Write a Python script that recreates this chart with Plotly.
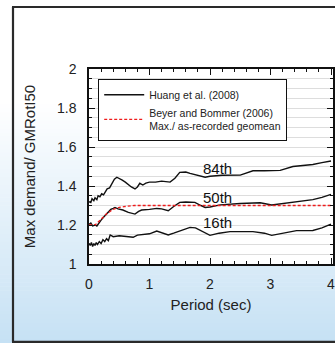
import plotly.graph_objects as go

# ---------------- data ----------------
p84_x = [0, 0.03, 0.05, 0.08, 0.1, 0.13, 0.15, 0.18, 0.21, 0.24, 0.27, 0.3, 0.34, 0.38, 0.42, 0.46,
         0.5, 0.55, 0.6, 0.65, 0.7, 0.76, 0.8, 0.84, 0.89, 0.94, 1.0, 1.1, 1.2, 1.34, 1.42, 1.5,
         1.6, 1.67, 1.8, 1.92, 2.0, 2.2, 2.5, 2.71, 2.9, 3.16, 3.37, 3.55, 3.7, 3.85, 4.0]
p84_y = [1.32, 1.315, 1.335, 1.325, 1.34, 1.33, 1.35, 1.345, 1.36, 1.355, 1.37, 1.385, 1.39, 1.41,
         1.435, 1.445, 1.44, 1.43, 1.42, 1.405, 1.395, 1.385, 1.395, 1.414, 1.405, 1.415, 1.42,
         1.42, 1.425, 1.42, 1.44, 1.47, 1.472, 1.465, 1.455, 1.445, 1.45, 1.455, 1.456, 1.478,
         1.478, 1.48, 1.5, 1.505, 1.51, 1.52, 1.528]

p50_x = [0, 0.03, 0.06, 0.1, 0.13, 0.16, 0.2, 0.24, 0.28, 0.32, 0.36, 0.4, 0.43, 0.48, 0.56,
         0.65, 0.76, 0.82, 0.87, 1.0, 1.12, 1.2, 1.31, 1.4, 1.5, 1.6, 1.75, 1.85, 1.92, 2.0,
         2.17, 2.5, 2.83, 3.02, 3.2, 3.43, 3.7, 3.85, 4.0]
p50_y = [1.203, 1.21, 1.195, 1.2, 1.195, 1.21, 1.225, 1.24, 1.255, 1.265, 1.28, 1.285, 1.29,
         1.283, 1.277, 1.265, 1.256, 1.27, 1.277, 1.28, 1.285, 1.283, 1.273, 1.295, 1.316,
         1.318, 1.316, 1.3, 1.29, 1.292, 1.303, 1.31, 1.314, 1.303, 1.31, 1.32, 1.33, 1.342, 1.357]

p16_x = [0, 0.02, 0.04, 0.06, 0.08, 0.1, 0.12, 0.14, 0.17, 0.2, 0.23, 0.26, 0.29, 0.32, 0.35,
         0.4, 0.5, 0.6, 0.73, 0.8, 0.93, 1.0, 1.12, 1.2, 1.31, 1.4, 1.5, 1.67, 1.76, 1.84, 1.92,
         2.0, 2.15, 2.33, 2.71, 2.9, 3.02, 3.2, 3.43, 3.7, 3.85, 4.0]
p16_y = [1.106, 1.095, 1.11, 1.09, 1.105, 1.095, 1.11, 1.1, 1.115, 1.105, 1.125, 1.115, 1.13,
         1.12, 1.149, 1.14, 1.145, 1.14, 1.137, 1.148, 1.154, 1.155, 1.169, 1.16, 1.149, 1.158,
         1.17, 1.188, 1.185, 1.171, 1.158, 1.147, 1.158, 1.166, 1.166, 1.158, 1.147, 1.158,
         1.171, 1.172, 1.185, 1.205]

bb_x = [0, 0.1, 0.2, 0.3, 0.4, 0.5, 0.6, 0.75, 1.0, 2.0, 3.0, 4.0]
bb_y = [1.2, 1.2, 1.23, 1.26, 1.28, 1.29, 1.295, 1.3, 1.3, 1.3, 1.3, 1.3]

labels = ["84th", "50th", "16th"]
label_x = [2.12, 2.12, 2.12]
label_y = [1.49, 1.34, 1.213]

x_range = [0, 4.033]
y_range = [1, 2]

# ---------------- figure ----------------
W, H = 335, 343
L, R, T, B = 89, 2, 69, 79
pw, ph = W - L - R, H - T - B

def px_x(px):
    return (px - L) / pw

def px_y(py):
    return (H - B - py) / ph

FONT = "Liberation Sans, Arial, sans-serif"
fig = go.Figure()

line_black = dict(color="#111111", width=1.4)
fig.add_trace(go.Scatter(x=p84_x, y=p84_y, mode="lines", line=line_black,
                         name="Huang et al. (2008)", showlegend=True))
fig.add_trace(go.Scatter(x=p50_x, y=p50_y, mode="lines", line=line_black, showlegend=False))
fig.add_trace(go.Scatter(x=p16_x, y=p16_y, mode="lines", line=line_black, showlegend=False))
fig.add_trace(go.Scatter(x=bb_x, y=bb_y, mode="lines",
                         line=dict(color="#ee1c1c", width=1.3, dash="3px,2px"),
                         name="Beyer and Bommer (2006)<br>Max./ as-recorded geomean"))

for t, xx, yy in zip(labels, label_x, label_y):
    fig.add_annotation(x=xx, y=yy, text=t, showarrow=False,
                       font=dict(family=FONT, size=15, color="#111111"))

# background gradient (paper), white top -> light blue bottom
shapes = []
top_c = (255, 255, 255)
bot_c = (198, 225, 244)
y_start, y_end = 100, 343
n = 60
for i in range(n):
    a = y_start + (y_end - y_start) * i / n
    b = y_start + (y_end - y_start) * (i + 1) / n
    f = (i + 0.5) / n
    c = tuple(round(top_c[k] + (bot_c[k] - top_c[k]) * f) for k in range(3))
    shapes.append(dict(type="rect", xref="paper", yref="paper", layer="below",
                       x0=px_x(-5), x1=px_x(W + 30), y0=px_y(b + 0.5), y1=px_y(a),
                       fillcolor="rgb(%d,%d,%d)" % c, line=dict(width=0)))
# white plot area
shapes.append(dict(type="rect", xref="paper", yref="paper", layer="below",
                   x0=0, x1=1, y0=0, y1=1, fillcolor="white", line=dict(width=0)))
# outer frame (left, top, bottom edges; right edge lies outside the image)
frame = dict(color="#2a2a2a", width=2.2)
shapes.append(dict(type="line", xref="paper", yref="paper", layer="above",
                   x0=px_x(13), x1=px_x(13), y0=px_y(341.8), y1=px_y(6.9), line=frame))
shapes.append(dict(type="line", xref="paper", yref="paper", layer="above",
                   x0=px_x(12), x1=px_x(W + 30), y0=px_y(7), y1=px_y(7), line=frame))
shapes.append(dict(type="line", xref="paper", yref="paper", layer="above",
                   x0=px_x(12), x1=px_x(W + 30), y0=px_y(341.8), y1=px_y(341.8), line=frame))

fig.update_layout(
    width=W, height=H,
    margin=dict(l=L, r=R, t=T, b=B, autoexpand=False),
    paper_bgcolor="white", plot_bgcolor="white",
    font=dict(family=FONT, color="#222222"),
    shapes=shapes,
    showlegend=True,
    legend=dict(x=px_x(98), y=px_y(79), xanchor="left", yanchor="top",
                bgcolor="white", bordercolor="#111111", borderwidth=1.2,
                font=dict(family=FONT, size=10.5, color="#222222"),
                tracegroupgap=0, itemwidth=40),
)
fig.update_xaxes(range=x_range, tickmode="linear", tick0=0, dtick=1, ticks="inside",
                 ticklen=6, tickwidth=1.2, tickcolor="#111111", showline=True,
                 linecolor="#111111", linewidth=1.5, mirror="allticks", showgrid=False,
                 zeroline=False, ticklabeloverflow="allow",
                 tickfont=dict(family=FONT, size=14, color="#222222"), ticklabelstandoff=6,
                 minor=dict(dtick=0.2, tick0=0, ticks="inside", ticklen=3, tickcolor="#111111",
                            tickwidth=1, showgrid=False),
                 title=dict(text="Period (sec)", font=dict(family=FONT, size=15, color="#222222"),
                            standoff=9))
fig.update_yaxes(range=y_range, tickmode="linear", tick0=1, dtick=0.2, ticks="inside",
                 ticklen=6, tickwidth=1.2, tickcolor="#111111", showline=True,
                 linecolor="#111111", linewidth=1.5, mirror="allticks",
                 showgrid=True, gridcolor="#dddddd", gridwidth=1, zeroline=False,
                 tickfont=dict(family=FONT, size=14, color="#222222"), ticklabelstandoff=8,
                 minor=dict(dtick=0.05, tick0=1, ticks="inside", ticklen=3, tickcolor="#111111",
                            tickwidth=1, showgrid=True, gridcolor="#dddddd", gridwidth=1),
                 title=dict(text="Max demand/ GMRotI50",
                            font=dict(family=FONT, size=15, color="#222222"), standoff=18))

fig.write_html("out.html", config={"displayModeBar": False},
               post_script="document.documentElement.style.overflow='hidden';"
                           "document.body.style.overflow='hidden';"
                           "document.body.style.margin='0';")
